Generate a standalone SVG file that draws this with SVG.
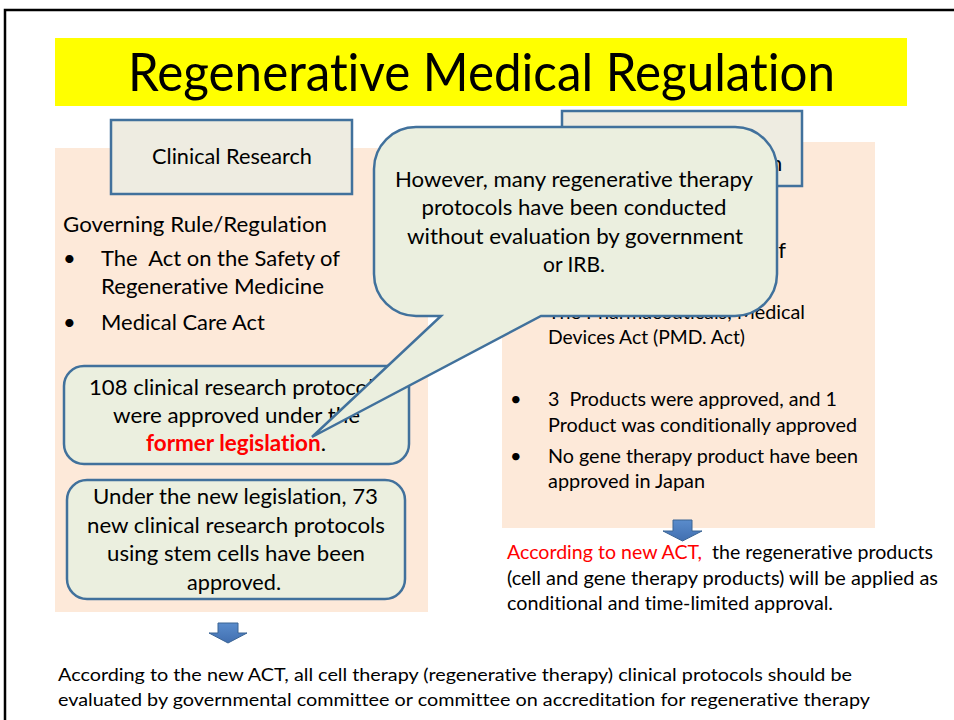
<svg xmlns="http://www.w3.org/2000/svg" width="954" height="720" viewBox="0 0 954 720">
  <style>
    text { font-family: Lato, "Open Sans", "Liberation Sans", sans-serif; fill: #000; font-variant-ligatures: none; }
    .title { font-size: 52px; }
    .hdr { font-size: 22px; }
    .body { font-size: 22px; }
    .small { font-size: 20px; }
    .note { font-size: 19px; }
    .foot { font-size: 17.5px; }
    .red { fill: #ff0000; }
    .bold { font-weight: bold; }
    .panel { fill: #fde9d9; stroke: none; }
    .hbox { fill: #eeece1; stroke: #41719c; stroke-width: 2.5; }
    .rbox { fill: #ebefdf; stroke: #41719c; stroke-width: 2.5; }
    .arrow { fill: url(#arrowFill); stroke: #3a6494; stroke-width: 1; }
  </style>
  <defs>
    <linearGradient id="arrowFill" x1="0" y1="0" x2="0" y2="1">
      <stop offset="0" stop-color="#5a8ccc"/>
      <stop offset="1" stop-color="#416fb0"/>
    </linearGradient>
  </defs>

  <rect width="954" height="720" fill="#ffffff"/>
  <!-- slide frame -->
  <rect x="5" y="10" width="1000" height="800" fill="none" stroke="#000" stroke-width="2.5"/>

  <!-- title banner -->
  <g id="title">
    <rect x="55" y="38" width="852" height="68" fill="#ffff00"/>
    <text class="title" x="128" y="91" textLength="707" lengthAdjust="spacingAndGlyphs">Regenerative Medical Regulation</text>
  </g>

  <!-- left column: clinical research -->
  <g id="clinical-panel">
    <rect class="panel" x="55" y="148" width="373" height="464"/>
  </g>
  <g id="clinical-header">
    <rect class="hbox" x="111" y="120" width="241" height="74"/>
    <text class="hdr" x="152" y="164" textLength="160" lengthAdjust="spacingAndGlyphs">Clinical Research</text>
  </g>
  <g id="clinical-rules">
    <text class="body" x="63" y="232" textLength="264" lengthAdjust="spacingAndGlyphs">Governing Rule/Regulation</text>
    <text class="body" x="63" y="266">•</text>
    <text class="body" x="101" y="266" xml:space="preserve" textLength="239" lengthAdjust="spacingAndGlyphs">The  Act on the Safety of</text>
    <text class="body" x="101" y="294" textLength="223" lengthAdjust="spacingAndGlyphs">Regenerative Medicine</text>
    <text class="body" x="63" y="330">•</text>
    <text class="body" x="101" y="330" textLength="164" lengthAdjust="spacingAndGlyphs">Medical Care Act</text>
  </g>
  <g id="former-protocols">
    <rect class="rbox" x="64" y="366" width="345" height="98" rx="20" ry="20"/>
    <text class="body" x="89" y="395" textLength="294" lengthAdjust="spacingAndGlyphs">108 clinical research protocols</text>
    <text class="body" x="113" y="423" textLength="247" lengthAdjust="spacingAndGlyphs">were approved under the</text>
    <text class="body" x="146" y="451" textLength="180" lengthAdjust="spacingAndGlyphs"><tspan class="red bold">former legislation</tspan>.</text>
  </g>
  <g id="new-protocols">
    <rect class="rbox" x="67" y="480" width="338" height="119" rx="20" ry="20"/>
    <text class="body" x="93" y="504" textLength="285" lengthAdjust="spacingAndGlyphs">Under the new legislation, 73</text>
    <text class="body" x="87" y="533" textLength="298" lengthAdjust="spacingAndGlyphs">new clinical research protocols</text>
    <text class="body" x="107" y="561" textLength="258" lengthAdjust="spacingAndGlyphs">using stem cells have been</text>
    <text class="body" x="187" y="590" textLength="94" lengthAdjust="spacingAndGlyphs">approved.</text>
  </g>

  <!-- right column: products -->
  <g id="product-panel">
    <rect class="panel" x="502" y="142" width="373" height="386"/>
  </g>
  <g id="product-header">
    <rect class="hbox" x="562" y="111" width="240" height="75"/>
    <text class="hdr" x="770" y="171">n</text>
  </g>
  <g id="product-rules">
    <text class="body" x="766" y="258">of</text>
    <text class="small" x="548" y="319" textLength="257" lengthAdjust="spacingAndGlyphs">The Pharmaceuticals, Medical</text>
    <text class="small" x="548" y="344" textLength="197" lengthAdjust="spacingAndGlyphs">Devices Act (PMD. Act)</text>
  </g>
  <g id="product-status">
    <text class="small" x="510" y="406">•</text>
    <text class="small" x="548" y="406" xml:space="preserve" textLength="289" lengthAdjust="spacingAndGlyphs">3  Products were approved, and 1</text>
    <text class="small" x="548" y="432" textLength="309" lengthAdjust="spacingAndGlyphs">Product was conditionally approved</text>
    <text class="small" x="510" y="463">•</text>
    <text class="small" x="548" y="463" textLength="310" lengthAdjust="spacingAndGlyphs">No gene therapy product have been</text>
    <text class="small" x="548" y="488" textLength="157" lengthAdjust="spacingAndGlyphs">approved in Japan</text>
  </g>
  <g id="product-outcome">
    <text class="note" x="507" y="559" xml:space="preserve" textLength="426" lengthAdjust="spacingAndGlyphs"><tspan class="red">According to new ACT,</tspan>  the regenerative products</text>
    <text class="note" x="507" y="585" textLength="431" lengthAdjust="spacingAndGlyphs">(cell and gene therapy products) will be applied as</text>
    <text class="note" x="507" y="610" textLength="326" lengthAdjust="spacingAndGlyphs">conditional and time-limited approval.</text>
  </g>

  <!-- down arrows -->
  <g id="connectors">
    <path class="arrow" d="M218,623 H238 V633 H247 L228,643 L209,633 H218 Z"/>
    <path class="arrow" d="M673,520 H692 V531 H702 L682.5,541 L663,531 H673 Z"/>
  </g>

  <g id="clinical-outcome">
    <text class="foot" x="58" y="681" textLength="794" lengthAdjust="spacingAndGlyphs">According to the new ACT, all cell therapy (regenerative therapy) clinical protocols should be</text>
    <text class="foot" x="58" y="706" textLength="812" lengthAdjust="spacingAndGlyphs">evaluated by governmental committee or committee on accreditation for regenerative therapy</text>
  </g>

  <!-- speech callout pointing at the former legislation box -->
  <g id="callout">
    <path class="rbox" d="M416,127 H735 A42,42 0 0 1 777,169 V274 A42,42 0 0 1 735,316 H541 L312,437 L441,316 H416 A42,42 0 0 1 374,274 V169 A42,42 0 0 1 416,127 Z"/>
    <text class="body" x="574" y="187" text-anchor="middle" textLength="358" lengthAdjust="spacingAndGlyphs">However, many regenerative therapy</text>
    <text class="body" x="574" y="215" text-anchor="middle" textLength="305" lengthAdjust="spacingAndGlyphs">protocols have been conducted</text>
    <text class="body" x="575" y="244" text-anchor="middle" textLength="336" lengthAdjust="spacingAndGlyphs">without evaluation by government</text>
    <text class="body" x="574" y="272" text-anchor="middle" textLength="62" lengthAdjust="spacingAndGlyphs">or IRB.</text>
  </g>
</svg>
